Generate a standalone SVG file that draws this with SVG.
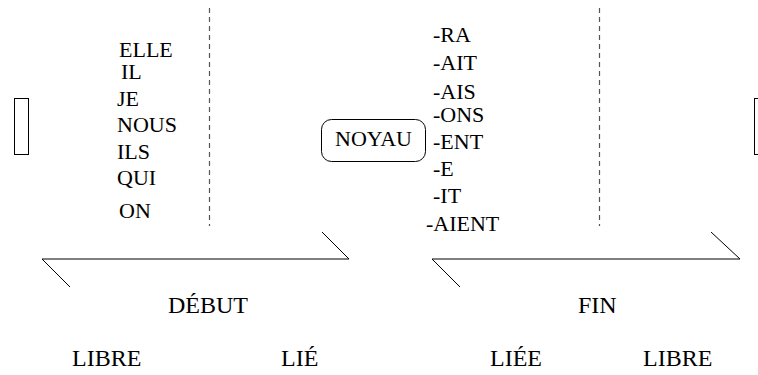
<svg xmlns="http://www.w3.org/2000/svg" width="758" height="375" viewBox="0 0 758 375">
<style>
text{font-family:"Liberation Serif","Times New Roman",serif;fill:#000}
.t{font-size:22px}
.b{font-size:24px}
.box{fill:#fff;stroke:#000;stroke-width:1}
.dash{stroke:#555;stroke-width:1.2;stroke-dasharray:5 4;fill:none}
.br{stroke:#000;stroke-width:1;fill:none}
</style>
<rect width="758" height="375" fill="#fff"/>
<g id="left-box"><rect class="box" x="14.5" y="98.5" width="14" height="56"/></g>
<g id="right-box"><rect class="box" x="754.5" y="98.5" width="14" height="56"/></g>
<g id="separators">
<line class="dash" x1="209.5" y1="8" x2="209.5" y2="226"/>
<line class="dash" x1="599.5" y1="8" x2="599.5" y2="226"/>
</g>
<g id="pronoms">
<text class="t" x="119" y="57">ELLE</text>
<text class="t" x="121" y="79">IL</text>
<text class="t" x="117" y="106">JE</text>
<text class="t" x="117" y="132">NOUS</text>
<text class="t" x="117" y="159">ILS</text>
<text class="t" x="117" y="185">QUI</text>
<text class="t" x="119" y="218">ON</text>
</g>
<g id="noyau">
<rect class="box" x="321.5" y="119.5" width="104" height="42" rx="10"/>
<text class="t" x="335" y="146">NOYAU</text>
</g>
<g id="suffixes">
<text class="t" x="433" y="42">-RA</text>
<text class="t" x="433" y="70">-AIT</text>
<text class="t" x="433" y="99">-AIS</text>
<text class="t" x="433" y="122">-ONS</text>
<text class="t" x="433" y="149">-ENT</text>
<text class="t" x="433" y="176">-E</text>
<text class="t" x="433" y="203">-IT</text>
<text class="t" x="426" y="231">-AIENT</text>
</g>
<g id="debut"><text class="b" x="168" y="313">DÉBUT</text></g>
<g id="fin"><text class="b" x="578" y="313">FIN</text></g>
<g id="libre-gauche"><text class="b" x="72" y="366">LIBRE</text></g>
<g id="lie"><text class="b" x="281" y="366">LIÉ</text></g>
<g id="liee"><text class="b" x="490" y="366">LIÉE</text></g>
<g id="libre-droite"><text class="b" x="643" y="366">LIBRE</text></g>
<g id="connectors">
<polyline class="br" points="322,232 349,259 42,259 70,287"/>
<polyline class="br" points="711,232 740,259 432,259 460,287"/>
</g>
</svg>
